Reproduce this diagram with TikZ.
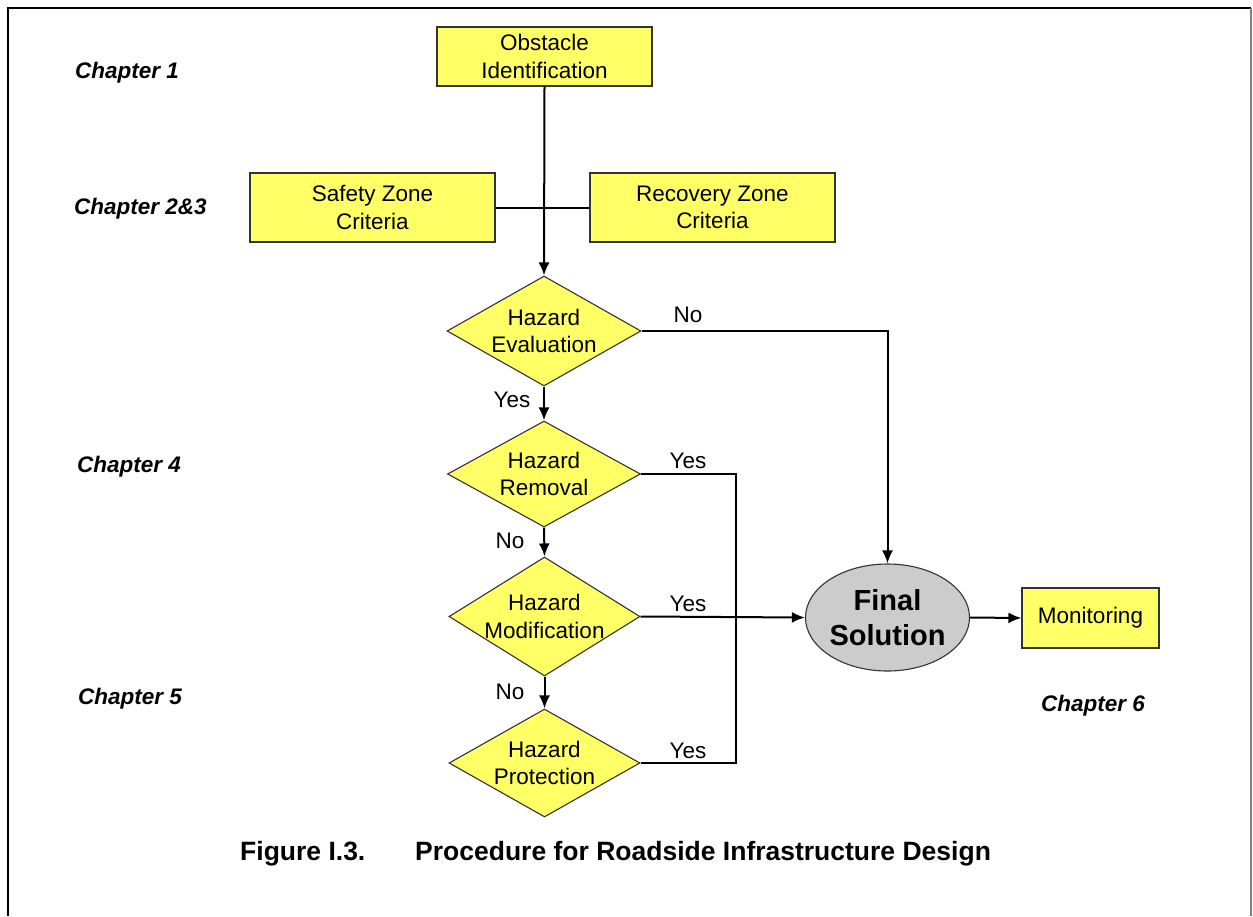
\documentclass[tikz,border=0pt]{standalone}
\usepackage{fontspec}
\setmainfont{Liberation Sans}
\usetikzlibrary{shapes.geometric,arrows.meta}
\definecolor{boxyellow}{HTML}{FFFF66}
\definecolor{solgray}{HTML}{CCCCCC}
\definecolor{edgegray}{HTML}{333333}
\tikzset{
  txt/.style={font=\fontsize{22.5}{27.5}\selectfont, align=center},
  chap/.style={font=\fontsize{22.5}{27}\selectfont\bfseries\itshape, anchor=base west, inner sep=0pt},
  ybox/.style={draw=edgegray, line width=1.1pt, fill=boxyellow, inner sep=0pt, txt},
  ydia/.style={diamond, draw=edgegray, line width=1.1pt, fill=boxyellow, inner sep=0pt},
  dlab/.style={label={[txt, inner sep=0pt]center:#1}},
  conn/.style={line width=2pt, draw=black},
  thinconn/.style={line width=1.2pt, draw=black},
  arr/.style={-{Latex[length=13pt,width=11pt]}},
  lab/.style={txt, inner sep=0pt},
}
\begin{document}
\begin{tikzpicture}[x=1pt,y=-1pt]
\useasboundingbox (0,0) rectangle (1253,916);
% frame
\draw[line width=1.8pt] (8,916) -- (8,8) -- (1251,8);
\draw[line width=1.4pt, draw=gray] (1251,8) -- (1251,916);

% nodes
\node[ybox, minimum width=215pt, minimum height=59pt] (obs) at (544.5,56.5) {Obstacle\\Identification};
\node[ybox, minimum width=245pt, minimum height=69pt] (safe) at (372.5,207.5) {Safety Zone\\Criteria};
\node[ybox, minimum width=245pt, minimum height=69pt] (rec) at (712.5,207.5) {Recovery Zone\\Criteria};

\node[ydia, minimum width=194pt, minimum height=110pt, dlab={Hazard\\Evaluation}] (eval) at (544,331) {};
\node[ydia, minimum width=193pt, minimum height=106pt, dlab={Hazard\\Removal}] (remv) at (544,474) {};
\node[ydia, minimum width=191pt, minimum height=119pt, dlab={Hazard\\Modification}] (modf) at (544.5,616.5) {};
\node[ydia, minimum width=191pt, minimum height=108pt, dlab={Hazard\\Protection}] (prot) at (544.5,763) {};

\node[ellipse, draw=edgegray, line width=1.1pt, fill=solgray, minimum width=157pt, minimum height=107pt, inner sep=0pt,
      font=\fontsize{29}{35}\selectfont\bfseries, align=center] (final) at (887.5,617.5) {Final\\Solution};
\node[ybox, minimum width=137pt, minimum height=60pt] (mon) at (1090.5,618) {Monitoring};

% chapter labels
\node[chap] (c1) at (75,78) {Chapter 1};
\node[chap] (c23) at (74,214) {Chapter 2\&3};
\node[chap] (c4) at (77,472) {Chapter 4};
\node[chap] (c5) at (78,704) {Chapter 5};
\node[chap] (c6) at (1041,711) {Chapter 6};

% caption
\node[font=\fontsize{26.5}{30}\selectfont\bfseries, anchor=base west, inner sep=0pt] (capA) at (240,860) {Figure I.3.};
\node[font=\fontsize{26.5}{30}\selectfont\bfseries, anchor=base west, inner sep=0pt] (capB) at (415,860) {Procedure for Roadside Infrastructure Design};

% connectors
\coordinate (loopB) at (736,763);
\draw[conn, arr] (obs.south) -- (eval.north);
\draw[conn] (safe.east) -- (rec.west);
\draw[conn, arr] (eval.south) -- (remv.north);
\draw[conn, arr] (remv.south) -- (modf.north);
\draw[conn, arr] (modf.south) -- (prot.north);
\draw[conn, arr] (eval.east) -| (final.north);
\draw[thinconn] (remv.east) -| (loopB) -- (prot.east);
\draw[conn, arr] (modf.east) -- (final.west);
\draw[conn, arr] (final.east) -- (mon.west);

% branch labels
\node[lab] (l1) at (688,315) {No};
\node[lab] (l2) at (512,400) {Yes};
\node[lab] (l3) at (688,461) {Yes};
\node[lab] (l4) at (510,541) {No};
\node[lab] (l5) at (688,604) {Yes};
\node[lab] (l6) at (510,692) {No};
\node[lab] (l7) at (688,751) {Yes};
\end{tikzpicture}
\end{document}
